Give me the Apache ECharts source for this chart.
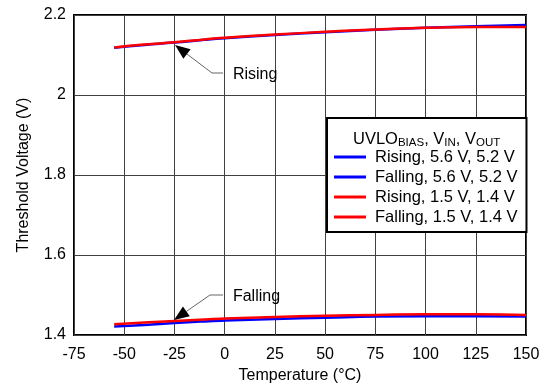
<!DOCTYPE html>
<html><head><meta charset="utf-8">
<script src="https://cdn.jsdelivr.net/npm/echarts@6/dist/echarts.min.js"></script>
<style>html,body{margin:0;padding:0;background:#fff}#c{width:543px;height:386px}</style>
</head><body><div id="c"></div>
<script>
const temps = [-55, -40, -25, -10, 0, 25, 50, 75, 100, 125, 150];
const risingHi = [2.118, 2.125, 2.131, 2.138, 2.142, 2.150, 2.157, 2.163, 2.168, 2.172, 2.175];
const fallingHi = [1.421, 1.425, 1.430, 1.434, 1.436, 1.440, 1.443, 1.446, 1.447, 1.447, 1.446];
const risingLo = [2.119, 2.126, 2.132, 2.139, 2.143, 2.151, 2.158, 2.164, 2.168, 2.170, 2.170];
const fallingLo = [1.427, 1.431, 1.435, 1.439, 1.441, 1.445, 1.448, 1.450, 1.452, 1.452, 1.450];
const seriesNames = ['Rising, 5.6 V, 5.2 V', 'Falling, 5.6 V, 5.2 V', 'Rising, 1.5 V, 1.4 V', 'Falling, 1.5 V, 1.4 V'];
const xTicks = {min: -75, max: 150, step: 25};
const yTicks = {min: 1.4, max: 2.2, step: 0.2};
// annotations: [tip, elbow, end, label] in data coords
const annRising = {text: 'Rising', tip: [-24.7, 2.125], elbow: [-6.3, 2.055], end: [-0.8, 2.055], label: [4.1, 2.052]};
const annFalling = {text: 'Falling', tip: [-25.2, 1.4375], elbow: [-7.3, 1.5], end: [-0.8, 1.5], label: [4.1, 1.497]};

const FONT = 'Liberation Sans, Arial, sans-serif';
const zip = (xs, ys) => xs.map((x, i) => [x, ys[i]]);
const chart = echarts.init(document.getElementById('c'), null, {renderer: 'canvas'});
const mk = (name, data, color) => ({
  name, type: 'line', data: zip(temps, data), smooth: true, showSymbol: false,
  lineStyle: {color, width: 2.5}, itemStyle: {color}, animation: false
});
chart.setOption({
  animation: false,
  grid: {left: 74, right: 17, top: 15, bottom: 51, show: true, borderColor: '#000', borderWidth: 2,
         backgroundColor: 'transparent', containLabel: false, outerBoundsMode: 'none'},
  xAxis: {
    type: 'value', min: xTicks.min, max: xTicks.max, interval: xTicks.step,
    name: 'Temperature (°C)', nameLocation: 'middle', nameGap: 29,
    nameTextStyle: {fontFamily: FONT, fontSize: 16, color: '#000'},
    axisLine: {show: false}, axisTick: {show: false},
    axisLabel: {fontFamily: FONT, fontSize: 16, color: '#000', margin: 12},
    splitLine: {lineStyle: {color: '#404040', width: 1}}
  },
  yAxis: {
    type: 'value', min: yTicks.min, max: yTicks.max, interval: yTicks.step,
    name: 'Threshold Voltage (V)', nameLocation: 'middle', nameGap: 42,
    nameTextStyle: {fontFamily: FONT, fontSize: 16, color: '#000'},
    axisLine: {show: false}, axisTick: {show: false},
    axisLabel: {fontFamily: FONT, fontSize: 16, color: '#000', margin: 8},
    splitLine: {lineStyle: {color: '#404040', width: 1}}
  },
  legend: {
    orient: 'vertical', left: 327, top: 118,
    padding: [30, 9, 6, 7], itemGap: 2,
    backgroundColor: '#fff', borderColor: '#000', borderWidth: 2,
    itemWidth: 32, itemHeight: 3, icon: 'rect',
    textStyle: {fontFamily: FONT, fontSize: 16.5, color: '#000', padding: [0, 0, 0, 4], lineHeight: 18},
    data: seriesNames
  },
  series: [
    mk(seriesNames[0], risingHi, '#0000ff'),
    mk(seriesNames[1], fallingHi, '#0000ff'),
    mk(seriesNames[2], risingLo, '#ff0000'),
    mk(seriesNames[3], fallingLo, '#ff0000')
  ]
});

function annotation(a) {
  const tip = chart.convertToPixel({gridIndex: 0}, a.tip);
  const elbow = chart.convertToPixel({gridIndex: 0}, a.elbow);
  const end = chart.convertToPixel({gridIndex: 0}, a.end);
  const lab = chart.convertToPixel({gridIndex: 0}, a.label);
  const dx = elbow[0] - tip[0], dy = elbow[1] - tip[1];
  const len = Math.hypot(dx, dy), ux = dx / len, uy = dy / len;
  const hl = 15, hw = 6;
  const bx = tip[0] + ux * hl, by = tip[1] + uy * hl;
  return [
    {type: 'polyline', z: 100, shape: {points: [[bx, by], elbow, end]}, style: {stroke: '#666', lineWidth: 1, fill: null}},
    {type: 'polygon', z: 100, shape: {points: [tip, [bx - uy * hw, by + ux * hw], [bx + uy * hw, by - ux * hw]]}, style: {fill: '#000'}},
    {type: 'text', z: 100, x: lab[0], y: lab[1], style: {text: a.text, font: '16px ' + FONT, fill: '#000', verticalAlign: 'middle', align: 'left'}}
  ];
}
chart.setOption({
  graphic: [
    ...annotation(annRising), ...annotation(annFalling),
    {type: 'text', z: 200, x: 353, y: 139,
     style: {
       text: '{m|UVLO}{s|BIAS}{m|, V}{s|IN}{m|, V}{s|OUT}',
       verticalAlign: 'middle', align: 'left',
       rich: {
         m: {font: '16.5px ' + FONT, fill: '#000', lineHeight: 20, verticalAlign: 'middle'},
         s: {font: '11.5px ' + FONT, fill: '#000', lineHeight: 20, verticalAlign: 'bottom'}
       }
     }}
  ]
});
</script></body></html>
